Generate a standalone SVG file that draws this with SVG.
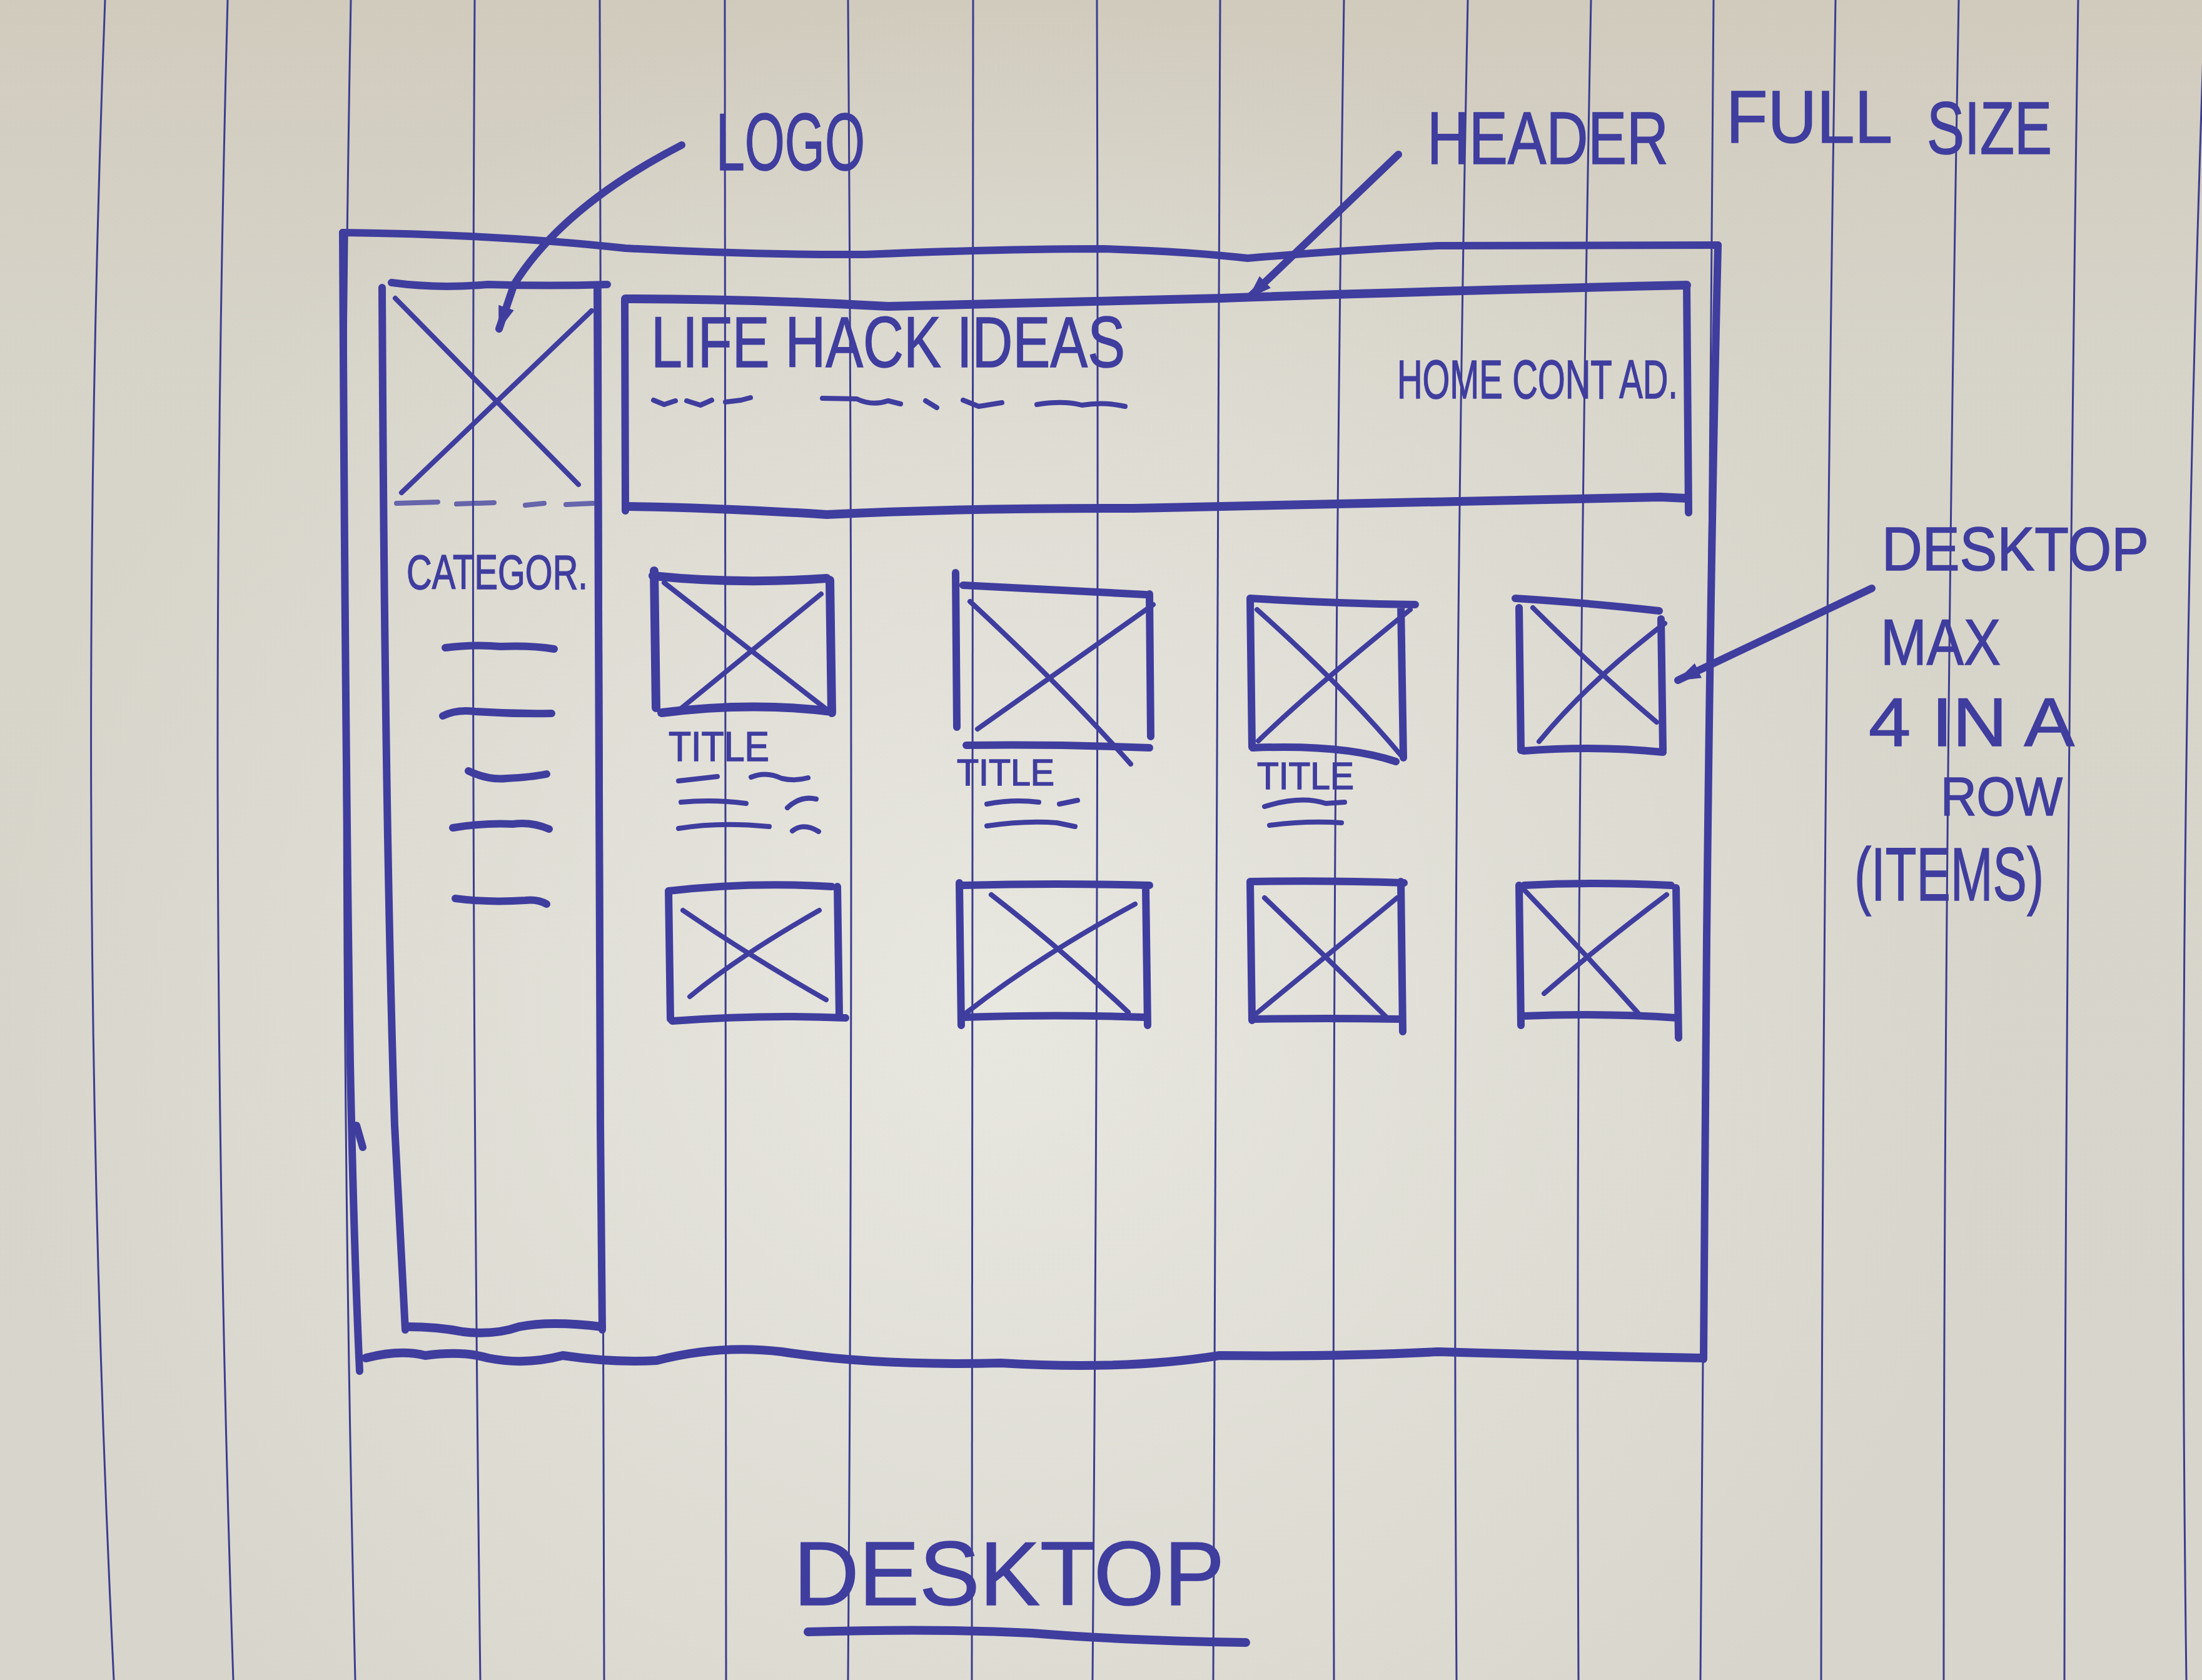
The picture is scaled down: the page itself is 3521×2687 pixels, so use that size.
<svg xmlns="http://www.w3.org/2000/svg" width="3521" height="2687" viewBox="0 0 3521 2687">
  <defs>
    <style>
      .rule { stroke: #3b3d8e; stroke-width: 3; fill: none; }
      .ink { stroke: #3f3d9e; stroke-width: 12; fill: none; stroke-linecap: round; stroke-linejoin: round; }
      .fine { stroke-width: 8; }
      .bold { stroke-width: 14; }
      .hand { font-family: "Liberation Sans", "DejaVu Sans", sans-serif; fill: #3f3d9e; stroke: #3f3d9e; stroke-width: 1.5; }
    </style>
    <linearGradient id="warm" x1="0" y1="0" x2="0" y2="1">
      <stop offset="0" stop-color="#cdc6b6" stop-opacity="0.7"/>
      <stop offset="0.25" stop-color="#d4cfc3" stop-opacity="0.3"/>
      <stop offset="1" stop-color="#d6d6cd" stop-opacity="0"/>
    </linearGradient>
    <radialGradient id="light" cx="1600" cy="1600" r="1600" gradientUnits="userSpaceOnUse">
      <stop offset="0" stop-color="#e9e8e1" stop-opacity="0.95"/>
      <stop offset="1" stop-color="#e9e8e1" stop-opacity="0"/>
    </radialGradient>
    <marker id="head" viewBox="0 0 40 30" refX="36" refY="15" markerWidth="40" markerHeight="30" markerUnits="userSpaceOnUse" orient="auto">
      <path d="M0 2 L38 15 L0 28 Z" fill="#3f3d9e"/>
    </marker>
  </defs>

  <!-- paper -->
  <rect width="3521" height="2687" fill="#d8d6cc"/>
  <rect width="3521" height="2687" fill="url(#warm)"/>
  <rect width="3521" height="2687" fill="url(#light)"/>

  <!-- ruled lines of the notebook page -->
  <g id="ruling">
    <path class="rule" d="M168 0 Q117 1343 182 2687"/>
    <path class="rule" d="M364 0 Q328 1343 373 2687"/>
    <path class="rule" d="M561 0 Q536 1343 568 2687"/>
    <path class="rule" d="M759 0 Q751 1343 768 2687"/>
    <path class="rule" d="M959 0 Q960 1343 966 2687"/>
    <path class="rule" d="M1159 0 Q1166 1343 1161 2687"/>
    <path class="rule" d="M1356 0 Q1366 1343 1356 2687"/>
    <path class="rule" d="M1556 0 Q1561 1343 1554 2687"/>
    <path class="rule" d="M1754 0 Q1758 1343 1747 2687"/>
    <path class="rule" d="M1951 0 Q1945 1343 1940 2687"/>
    <path class="rule" d="M2149 0 Q2129 1343 2133 2687"/>
    <path class="rule" d="M2347 0 Q2320 1343 2329 2687"/>
    <path class="rule" d="M2544 0 Q2518 1343 2524 2687"/>
    <path class="rule" d="M2740 0 Q2724 1343 2719 2687"/>
    <path class="rule" d="M2935 0 Q2914 1343 2912 2687"/>
    <path class="rule" d="M3132 0 Q3108 1343 3108 2687"/>
    <path class="rule" d="M3323 0 Q3303 1343 3301 2687"/>
    <path class="rule" d="M3526 0 Q3478 1343 3496 2687"/>
  </g>

  <!-- page frame -->
  <g id="page-frame">
    <path class="ink" d="M548 372 Q800 375 1000 397 Q1200 408 1383 407 Q1600 398 1765 398 Q1900 402 1995 413 Q2150 400 2300 393 Q2550 392 2747 392"/>
    <path class="ink" d="M2747 392 Q2735 900 2729 1500 L2724 2174"/>
    <path class="ink" d="M548 372 Q552 1200 560 1700 Q566 2000 575 2193"/>
    <path class="ink" d="M570 1800 L580 1835"/>
    <path class="ink bold" d="M585 2172 Q640 2158 680 2168 Q740 2160 780 2172 Q840 2184 900 2168 Q980 2180 1050 2176 Q1150 2150 1250 2162 Q1400 2185 1600 2180 Q1800 2192 1950 2168 Q2150 2170 2300 2162 Q2500 2168 2720 2172"/>
  </g>

  <!-- sidebar: logo + categories -->
  <g id="sidebar">
    <path class="ink" d="M626 452 Q700 462 780 455 Q880 458 971 455"/>
    <path class="ink" d="M611 460 Q615 1300 631 1800 L648 2127"/>
    <path class="ink" d="M955 462 Q957 1300 960 1800 L963 2127"/>
    <path class="ink bold" d="M650 2122 Q700 2122 740 2130 Q790 2136 830 2122 Q880 2112 962 2122"/>
  </g>

  <g id="logo">
    <path class="ink fine" d="M632 477 L925 775"/>
    <path class="ink fine" d="M946 497 L642 788"/>
    <path class="ink fine" d="M634 805 L700 803 M730 806 L790 804 M840 808 L870 805 M905 807 L948 805" stroke-opacity="0.75"/>
    <text class="hand" x="1145" y="272" font-size="130" textLength="238" lengthAdjust="spacingAndGlyphs">LOGO</text>
  </g>

  <g id="categories">
    <text class="hand" x="650" y="942" font-size="78" textLength="290" lengthAdjust="spacingAndGlyphs">CATEGOR.</text>
    <path class="ink" d="M712 1036 Q760 1030 800 1034 Q850 1032 886 1038"/>
    <path class="ink" d="M708 1145 Q730 1134 760 1138 Q820 1142 882 1141"/>
    <path class="ink" d="M749 1233 Q780 1248 810 1245 Q850 1243 874 1238"/>
    <path class="ink" d="M724 1324 Q770 1316 820 1318 Q850 1314 878 1326"/>
    <path class="ink" d="M728 1437 Q780 1444 840 1440 Q860 1438 874 1446"/>
  </g>

  <!-- header -->
  <g id="header">
    <path class="ink bold" d="M1000 478 Q1200 478 1420 490 Q1700 482 1953 477 Q2300 465 2697 456"/>
    <path class="ink" d="M999 480 L1000 817"/>
    <path class="ink" d="M2697 456 L2700 820"/>
    <path class="ink bold" d="M1003 810 Q1150 812 1322 823 Q1550 812 1813 813 Q2200 805 2655 795 L2697 797"/>
    <text class="hand" x="1041" y="587" font-size="115" textLength="758" lengthAdjust="spacingAndGlyphs">LIFE HACK IDEAS</text>
    <path class="ink fine" d="M1045 640 L1062 647 L1080 641 M1098 641 L1120 648 L1138 640 M1160 643 L1185 640 L1200 636"/>
    <path class="ink fine" d="M1315 637 L1370 638 Q1395 650 1420 641 L1440 646 M1480 641 L1498 652 M1540 640 L1565 650 L1602 644"/>
    <path class="ink fine" d="M1658 647 Q1700 640 1730 648 Q1765 642 1799 650"/>
    <text class="hand" x="2234" y="637" font-size="88" textLength="449" lengthAdjust="spacingAndGlyphs">HOME CONT AD.</text>
  </g>

  <!-- item cards, first row -->
  <g id="item-1">
    <path class="ink bold" d="M1046 913 L1049 1132 M1044 921 Q1180 935 1322 925 M1327 928 L1330 1140 M1058 1140 Q1200 1122 1330 1138"/>
    <path class="ink fine" d="M1062 932 L1330 1141 M1313 950 L1089 1133"/>
    <text class="hand" x="1069" y="1217" font-size="66" textLength="161" lengthAdjust="spacingAndGlyphs">TITLE</text>
    <path class="ink fine" d="M1085 1249 L1147 1242 M1201 1243 Q1225 1233 1250 1245 Q1270 1250 1292 1244 M1089 1283 Q1140 1278 1193 1285 M1259 1292 Q1280 1272 1305 1278 M1085 1325 Q1150 1314 1230 1322 M1267 1329 Q1285 1315 1309 1330"/>
  </g>
  <g id="item-2">
    <path class="ink" d="M1528 916 L1530 1163 M1540 936 Q1690 944 1832 951 M1838 950 L1840 1178 M1545 1192 Q1690 1190 1838 1196"/>
    <path class="ink fine" d="M1551 962 Q1700 1100 1808 1222 M1844 967 L1563 1166"/>
    <text class="hand" x="1530" y="1256" font-size="60" textLength="156" lengthAdjust="spacingAndGlyphs">TITLE</text>
    <path class="ink fine" d="M1578 1286 Q1620 1278 1661 1283 M1694 1286 L1723 1280 M1578 1321 Q1640 1312 1690 1316 L1719 1322"/>
  </g>
  <g id="item-3">
    <path class="ink" d="M1999 957 L2002 1195 M1999 957 Q2130 965 2263 967 M2240 967 L2244 1212 M2003 1196 Q2150 1190 2232 1218"/>
    <path class="ink fine" d="M2010 975 Q2150 1100 2240 1208 M2255 975 Q2100 1100 2012 1185"/>
    <text class="hand" x="2010" y="1262" font-size="62" textLength="155" lengthAdjust="spacingAndGlyphs">TITLE</text>
    <path class="ink fine" d="M2022 1290 Q2080 1272 2120 1285 L2150 1283 M2030 1320 Q2090 1312 2145 1316"/>
  </g>
  <g id="item-4">
    <path class="ink" d="M2429 972 L2432 1200 M2423 957 Q2550 965 2653 977 M2656 990 L2659 1200 M2436 1201 Q2550 1192 2659 1203"/>
    <path class="ink fine" d="M2451 972 Q2560 1080 2649 1155 M2662 997 Q2540 1090 2461 1186"/>
  </g>

  <!-- item cards, second row -->
  <g id="item-5">
    <path class="ink" d="M1069 1425 L1072 1630 M1069 1425 Q1200 1410 1330 1418 M1339 1418 L1342 1625 M1075 1633 Q1220 1622 1352 1628"/>
    <path class="ink fine" d="M1092 1456 Q1200 1530 1321 1599 M1310 1456 Q1180 1530 1103 1594"/>
  </g>
  <g id="item-6">
    <path class="ink" d="M1534 1412 L1537 1640 M1540 1416 Q1690 1412 1838 1416 M1832 1420 L1835 1640 M1540 1627 Q1690 1622 1830 1627"/>
    <path class="ink fine" d="M1585 1431 Q1700 1520 1804 1619 M1815 1446 Q1660 1530 1545 1620"/>
  </g>
  <g id="item-7">
    <path class="ink" d="M1999 1410 L2002 1632 M1999 1410 Q2130 1408 2245 1412 M2240 1410 L2243 1650 M2003 1630 Q2120 1628 2240 1630"/>
    <path class="ink fine" d="M2022 1436 Q2120 1530 2217 1627 M2234 1436 Q2120 1530 2010 1620"/>
  </g>
  <g id="item-8">
    <path class="ink" d="M2429 1416 L2432 1640 M2437 1416 Q2550 1410 2672 1416 M2680 1420 L2684 1660 M2436 1625 Q2560 1620 2682 1628"/>
    <path class="ink fine" d="M2435 1421 Q2530 1520 2619 1620 M2665 1431 Q2560 1510 2469 1589"/>
  </g>

  <!-- annotations -->
  <g id="note-header">
    <text class="hand" font-size="118">
      <tspan x="2282" y="262" textLength="386" lengthAdjust="spacingAndGlyphs">HEADER</tspan>
      <tspan x="2760" y="228" textLength="262" lengthAdjust="spacingAndGlyphs">FULL</tspan>
      <tspan x="3081" y="246" textLength="200" lengthAdjust="spacingAndGlyphs">SIZE</tspan>
    </text>
  </g>
  <g id="note-grid">
    <text class="hand" x="3009" y="912" font-size="98" textLength="427" lengthAdjust="spacingAndGlyphs">DESKTOP</text>
    <text class="hand" x="3007" y="1063" font-size="104" textLength="192" lengthAdjust="spacingAndGlyphs">MAX</text>
    <text class="hand" x="2988" y="1193" font-size="110" textLength="329" lengthAdjust="spacingAndGlyphs">4 IN A</text>
    <text class="hand" x="3103" y="1304" font-size="88" textLength="195" lengthAdjust="spacingAndGlyphs">ROW</text>
    <text class="hand" x="2965" y="1440" font-size="120" textLength="303" lengthAdjust="spacingAndGlyphs">(ITEMS)</text>
  </g>
  <g id="page-title">
    <text class="hand" x="1269" y="2567" font-size="144" textLength="689" lengthAdjust="spacingAndGlyphs">DESKTOP</text>
    <path class="ink bold" d="M1292 2610 Q1500 2604 1650 2612 Q1800 2624 1992 2627"/>
  </g>

  <!-- pointer arrows -->
  <g id="connectors">
    <path class="ink" d="M2236 247 L1997 476" marker-end="url(#head)"/>
    <path class="ink" d="M1090 232 Q900 330 822 455 L798 526" marker-end="url(#head)"/>
    <path class="ink" d="M2993 941 L2683 1088" marker-end="url(#head)"/>
  </g>
</svg>
